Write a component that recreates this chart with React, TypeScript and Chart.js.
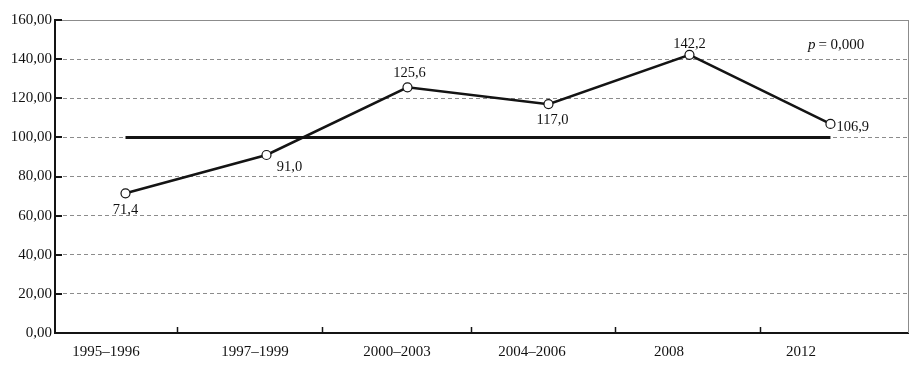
import React, { useEffect, useRef } from "react";
import { Chart, registerables } from "chart.js";

Chart.register(...registerables);

// ---- data ----
const CATEGORIES = ["1995–1996", "1997–1999", "2000–2003", "2004–2006", "2008", "2012"];
const VALUES = [71.4, 91.0, 125.6, 117.0, 142.2, 106.9];
const VALUE_LABELS = ["71,4", "91,0", "125,6", "117,0", "142,2", "106,9"];
const REFERENCE = [100, 100, 100, 100, 100, 100];
const Y_MIN = 0;
const Y_MAX = 160;
const Y_STEP = 20;
const P_LABEL = "p";
const P_VALUE = "= 0,000";

// ---- layout (axis units, not data) ----
const X_LABEL_POS = [-0.138, 0.918, 1.926, 2.883, 3.855, 4.791];
const X_TICK_POS = [0.365, 1.393, 2.45, 3.472, 4.5];
// [dx, dy, align] offsets of value labels from their points
const LABEL_OFFSETS: [number, number, CanvasTextAlign][] = [
  [0, 17, "center"],
  [23, 12, "center"],
  [2, -14, "center"],
  [4, 16, "center"],
  [0, -11, "center"],
  [6, 3, "left"],
];
const P_POS = { x: 4.84, y: 147 };

const FONT = "'Liberation Serif', 'Times New Roman', serif";
const INK = "#141414";
const TEXT = "#111111";
const GRID = "#8c8c8c";

const decorPlugin = {
  id: "decor",
  beforeDatasetsDraw(chart: any) {
    const { ctx, chartArea, scales } = chart;
    const xs = scales.x;
    const ys = scales.y;
    ctx.save();
    // right frame line
    ctx.strokeStyle = GRID;
    ctx.lineWidth = 1;
    ctx.beginPath();
    const rx = Math.round(chartArea.right) + 0.5;
    ctx.moveTo(rx, chartArea.top);
    ctx.lineTo(rx, chartArea.bottom);
    ctx.stroke();
    // inside y tick marks
    ctx.strokeStyle = INK;
    ctx.lineWidth = 2;
    for (let v = Y_MIN; v <= Y_MAX; v += Y_STEP) {
      const y = Math.round(ys.getPixelForValue(v));
      ctx.beginPath();
      ctx.moveTo(chartArea.left, y);
      ctx.lineTo(chartArea.left + 7, y);
      ctx.stroke();
    }
    // inside x tick marks
    ctx.lineWidth = 1.5;
    X_TICK_POS.forEach((p) => {
      const x = Math.round(xs.getPixelForValue(p)) + 0.5;
      ctx.beginPath();
      ctx.moveTo(x, chartArea.bottom);
      ctx.lineTo(x, chartArea.bottom - 6);
      ctx.stroke();
    });
    ctx.restore();
  },
  afterDatasetsDraw(chart: any) {
    const { ctx, scales } = chart;
    const meta = chart.getDatasetMeta(1);
    ctx.save();
    ctx.fillStyle = TEXT;
    ctx.font = `14.5px ${FONT}`;
    ctx.textBaseline = "middle";
    meta.data.forEach((pt: any, i: number) => {
      const [dx, dy, align] = LABEL_OFFSETS[i];
      ctx.textAlign = align;
      ctx.fillText(VALUE_LABELS[i], pt.x + dx, pt.y + dy);
    });
    // p = 0,000
    const px = scales.x.getPixelForValue(P_POS.x);
    const py = scales.y.getPixelForValue(P_POS.y);
    ctx.textAlign = "left";
    ctx.font = `italic 15px ${FONT}`;
    ctx.fillText(P_LABEL, px, py);
    const w = ctx.measureText(P_LABEL).width;
    ctx.font = `15px ${FONT}`;
    ctx.fillText(P_VALUE, px + w + 3, py);
    ctx.restore();
  },
};

export default function App() {
  const ref = useRef<HTMLCanvasElement>(null);

  useEffect(() => {
    document.body.style.margin = "0";
    if (!ref.current) return;
    const chart = new Chart(ref.current, {
      type: "line",
      data: {
        datasets: [
          {
            label: "reference",
            data: REFERENCE.map((v, i) => ({ x: i, y: v })),
            borderColor: INK,
            borderWidth: 3,
            pointRadius: 0,
            tension: 0,
            order: 2,
          },
          {
            label: "index",
            data: VALUES.map((v, i) => ({ x: i, y: v })),
            borderColor: INK,
            borderWidth: 2.5,
            pointRadius: 4.5,
            pointBackgroundColor: "#ffffff",
            pointBorderColor: INK,
            pointBorderWidth: 1.2,
            tension: 0,
            order: 1,
          },
        ],
      },
      options: {
        responsive: false,
        animation: false,
        devicePixelRatio: 1,
        layout: { padding: { top: 20, right: 12, left: 0, bottom: 0 } },
        plugins: {
          legend: { display: false },
          tooltip: { enabled: false },
        },
        scales: {
          x: {
            type: "linear",
            min: -0.5,
            max: 5.55,
            grid: { display: false, drawTicks: false },
            border: { display: true, color: INK, width: 2 },
            afterBuildTicks: (s: any) => {
              s.ticks = X_LABEL_POS.map((v) => ({ value: v }));
            },
            afterFit: (s: any) => {
              s.height = 34;
            },
            ticks: {
              autoSkip: false,
              maxRotation: 0,
              padding: 10,
              color: TEXT,
              font: { family: FONT, size: 15 },
              callback: (_v: any, i: number) => CATEGORIES[i],
            },
          },
          y: {
            min: Y_MIN,
            max: Y_MAX,
            grid: {
              drawTicks: false,
              lineWidth: 1,
              color: (c: any) => (c.tick && c.tick.value === Y_MIN ? "rgba(0,0,0,0)" : GRID),
            },
            border: {
              display: true,
              color: INK,
              width: 2,
              dash: (c: any) => (c.tick && c.tick.value < Y_MAX ? [4, 3] : []),
            },
            afterFit: (s: any) => {
              s.width = 55;
            },
            ticks: {
              stepSize: Y_STEP,
              padding: 3,
              color: TEXT,
              font: { family: FONT, size: 15 },
              callback: (v: any) => Number(v).toFixed(2).replace(".", ","),
            },
          },
        },
      },
      plugins: [decorPlugin],
    });
    return () => chart.destroy();
  }, []);

  return (
    <div style={{ width: 920, height: 367, background: "#fff" }}>
      <canvas ref={ref} width={920} height={367} />
    </div>
  );
}
